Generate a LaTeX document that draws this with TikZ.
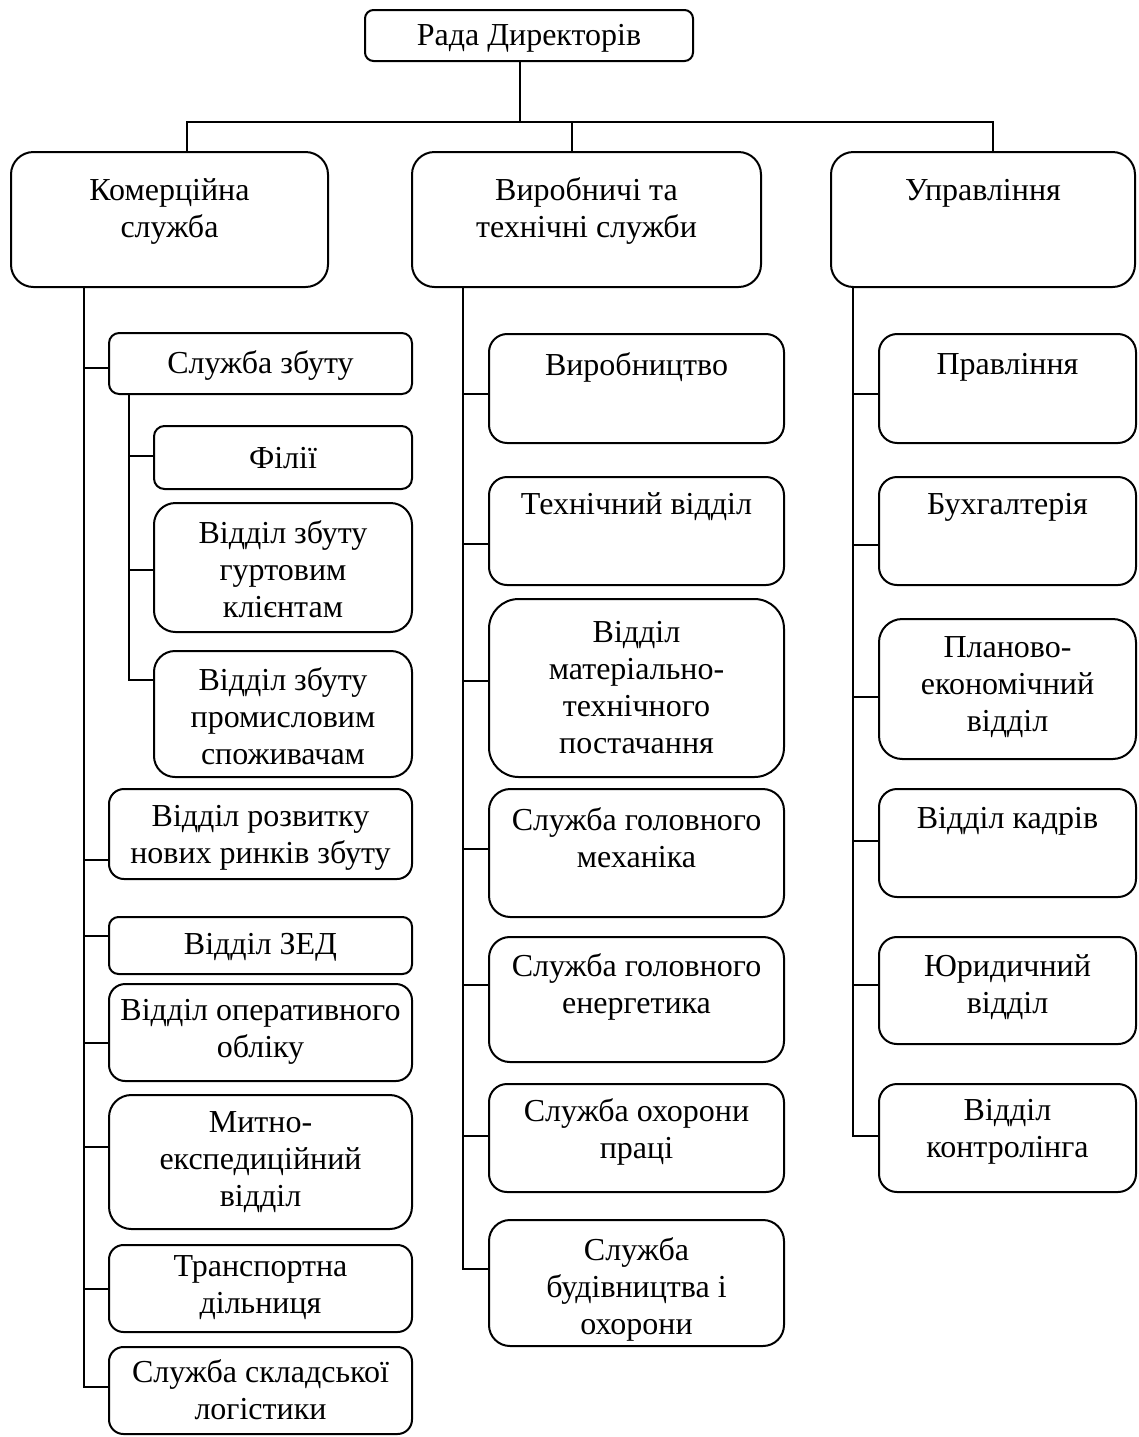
\documentclass[tikz,border=0pt]{standalone}
\usepackage{fontspec}
\setmainfont{Liberation Serif}
\tikzset{
  obox/.style={draw, line width=1pt, inner sep=0pt},
  otext/.style={align=center, inner sep=0pt, font=\fontsize{16}{18.5}\selectfont},
  link/.style={line width=1pt}
}
\newcommand\obox[7]{%
  \pgfmathsetmacro\obw{(#4)-(#2)}%
  \pgfmathsetmacro\obh{(#5)-(#3)}%
  \pgfmathsetmacro\obr{\obh/6}%
  \pgfmathsetmacro\obcx{((#2)+(#4))/2}%
  \pgfmathsetmacro\obcy{((#3)+(#5))/2}%
  \node[obox, minimum width=\obw*0.5pt, minimum height=\obh*0.5pt, rounded corners=\obr*0.5pt] (#1) at (\obcx,\obcy) {};
  \node[otext] (#1-t) at (\obcx,#6) {#7};
}
\newcommand\conn[3]{\draw[link] (#2.west |- 0,#3) -- (#1 |- 0,#3);}
\begin{document}
\begin{tikzpicture}[x=0.5pt,y=-0.5pt]
\useasboundingbox (0,0) rectangle (1139,1437);
% top
\obox{R}{365}{10}{693}{61}{38}{Рада Директорів}
% level 2
\obox{C1}{11}{152}{328}{287}{211}{Комерційна\\служба}
\obox{C2}{412}{152}{761}{287}{211}{Виробничі та\\технічні служби}
\obox{C3}{831}{152}{1135}{287}{193}{Управління}
% bus
\coordinate (bus) at (520,122);
\coordinate (busL) at (187,122);
\coordinate (busM) at (571.5,122);
\coordinate (busR) at (993,122);
\draw[link] (R.south -| bus) -- (bus);
\draw[link] (C1.north -| busL) -- (busL) -- (busR) -- (C3.north -| busR);
\draw[link] (busM) -- (C2.north -| busM);
% left column
\obox{L1}{109}{333}{412}{394}{365}{Служба збуту}
\obox{L1a}{154}{426}{412}{489}{458}{Філії}
\obox{L1b}{154}{503}{412}{632}{569}{Відділ збуту\\гуртовим\\клієнтам}
\obox{L1c}{154}{651}{412}{777}{716}{Відділ збуту\\промисловим\\споживачам}
\obox{L2}{109}{789}{412}{879}{838}{Відділ розвитку\\нових ринків збуту}
\obox{L3}{109}{917}{412}{974}{947}{Відділ ЗЕД}
\obox{L4}{109}{984}{412}{1081}{1032}{Відділ оперативного\\обліку}
\obox{L5}{109}{1095}{412}{1229}{1162}{Митно-\\експедиційний\\відділ}
\obox{L6}{109}{1245}{412}{1332}{1288}{Транспортна\\дільниця}
\obox{L7}{109}{1347}{412}{1434}{1390}{Служба складської\\логістики}
\coordinate (tL) at (84,1387);
\draw[link] (C1.south -| tL) -- (tL) -- (L7.west |- tL);
\conn{tL}{L1}{368}
\conn{tL}{L2}{860}
\conn{tL}{L3}{936}
\conn{tL}{L4}{1043}
\conn{tL}{L5}{1147}
\conn{tL}{L6}{1289}
\coordinate (tS) at (129,680);
\draw[link] (L1.south -| tS) -- (tS) -- (L1c.west |- tS);
\conn{tS}{L1a}{456}
\conn{tS}{L1b}{570}
% middle column
\obox{M1}{489}{334}{784}{443}{367}{Виробництво}
\obox{M2}{489}{477}{784}{585}{507}{Технічний відділ}
\obox{M3}{489}{599}{784}{777}{688}{Відділ\\матеріально-\\технічного\\постачання}
\obox{M4}{489}{789}{784}{917}{838}{Служба головного\\механіка}
\obox{M5}{489}{937}{784}{1062}{987}{Служба головного\\енергетика}
\obox{M6}{489}{1084}{784}{1192}{1132}{Служба охорони\\праці}
\obox{M7}{489}{1220}{784}{1346}{1289}{Служба\\будівництва і\\охорони}
\coordinate (tM) at (463,1269);
\draw[link] (C2.south -| tM) -- (tM) -- (M7.west |- tM);
\conn{tM}{M1}{394}
\conn{tM}{M2}{544}
\conn{tM}{M3}{681}
\conn{tM}{M4}{849}
\conn{tM}{M5}{985}
\conn{tM}{M6}{1136}
% right column
\obox{P1}{879}{334}{1136}{443}{367}{Правління}
\obox{P2}{879}{477}{1136}{585}{507}{Бухгалтерія}
\obox{P3}{879}{619}{1136}{759}{687}{Планово-\\економічний\\відділ}
\obox{P4}{879}{789}{1136}{897}{821}{Відділ кадрів}
\obox{P5}{879}{937}{1136}{1044}{987}{Юридичний\\відділ}
\obox{P6}{879}{1084}{1136}{1192}{1132}{Відділ\\контролінга}
\coordinate (tR) at (853,1136);
\draw[link] (C3.south -| tR) -- (tR) -- (P6.west |- tR);
\conn{tR}{P1}{394}
\conn{tR}{P2}{545}
\conn{tR}{P3}{697}
\conn{tR}{P4}{841}
\conn{tR}{P5}{985}
\end{tikzpicture}
\end{document}
